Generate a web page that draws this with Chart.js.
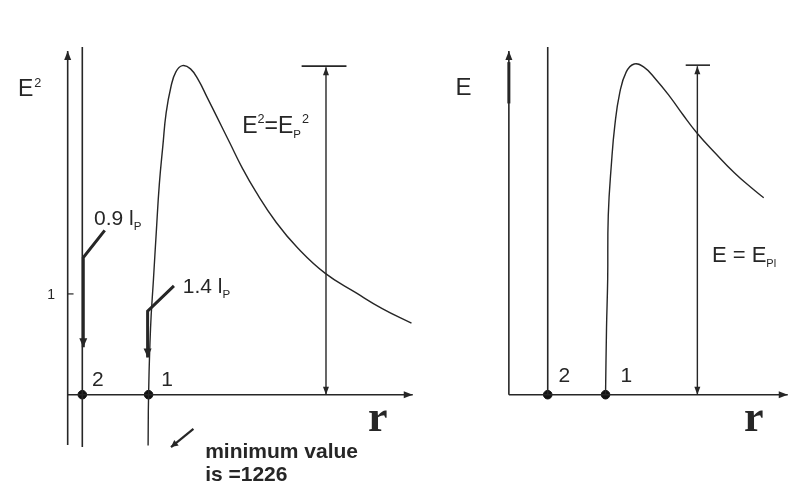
<!DOCTYPE html>
<html><head><meta charset="utf-8">
<script src="https://cdn.jsdelivr.net/npm/chart.js@4/dist/chart.umd.min.js"></script>
<style>
html,body{margin:0;padding:0;background:#fff;width:794px;height:491px;overflow:hidden}
#cl{position:absolute;left:0;top:0}
#cr{position:absolute;left:420px;top:0}
</style>
</head><body>
<canvas id="cl" width="420" height="491"></canvas>
<canvas id="cr" width="374" height="491"></canvas>
<script>
// ---------- data (arbitrary r units) ----------
const LEFT_R  = [4.125, 4.15, 4.25, 4.40, 4.55, 4.70, 4.885, 5.05, 5.30, 5.55, 5.885, 6.30, 6.715, 7.135, 7.635, 8.30, 8.965, 9.635, 10.70, 11.80, 13.215, 14.80, 16.135, 17.635];
const LEFT_E2 = [-0.505, 0.00, 0.66, 1.146, 1.631, 2.087, 2.476, 2.796, 3.058, 3.204, 3.265, 3.233, 3.119, 2.958, 2.764, 2.505, 2.246, 2.019, 1.709, 1.456, 1.204, 1.010, 0.854, 0.709];
const RIGHT_R = [4.975, 5.025, 5.085, 5.115, 5.285, 5.45, 5.70, 6.035, 6.45, 6.95, 7.535, 8.285, 8.95, 9.70, 10.615, 11.615, 12.45, 13.115];
const RIGHT_E = [0.00, 0.66, 1.146, 1.777, 2.311, 2.667, 2.990, 3.201, 3.282, 3.250, 3.136, 2.958, 2.780, 2.592, 2.398, 2.199, 2.058, 1.954];
const LEFT_Y_TICKS = [1];
const POINT_LABELS = ['2', '1'];
const LEFT_POINTS_R = [0.75, 4.15];
const RIGHT_POINTS_R = [2.0, 4.975];
const LEFT_PEAK = 3.26;   // E^2 = E_P^2 level
const RIGHT_PEAK = 3.27;  // E = E_Pl level
const LEFT_MARK_R = 13.25;
const RIGHT_MARK_R = 9.7;
const ANNOT_09 = '0.9';
const ANNOT_14 = '1.4';
const MIN_TEXT = ['minimum value', 'is =1226'];

const INK = '#262626';
const SANS = '"Liberation Sans", Arial, sans-serif';

// ---------- decoration plugin (draws via the chart's own scales) ----------
const deco = {
  id: 'deco',
  afterDatasetsDraw(chart, args, opts) {
    const {ctx, scales:{x, y}} = chart;
    const px = v => x.getPixelForValue(v), py = v => y.getPixelForValue(v);
    ctx.save();
    ctx.strokeStyle = INK; ctx.fillStyle = INK; ctx.lineCap = 'butt';
    const arrow = (x1, y1, x2, y2, len, half) => {
      const a = Math.atan2(y2 - y1, x2 - x1);
      ctx.beginPath();
      ctx.moveTo(x2, y2);
      ctx.lineTo(x2 - len*Math.cos(a) + half*Math.sin(a), y2 - len*Math.sin(a) - half*Math.cos(a));
      ctx.lineTo(x2 - len*Math.cos(a) - half*Math.sin(a), y2 - len*Math.sin(a) + half*Math.cos(a));
      ctx.closePath(); ctx.fill();
    };
    (opts.lines || []).forEach(l => {
      const pts = l.pts.map(p => [px(p[0]), py(p[1])]);
      ctx.lineWidth = l.w || 1.5;
      ctx.beginPath();
      pts.forEach((p, i) => i ? ctx.lineTo(p[0], p[1]) : ctx.moveTo(p[0], p[1]));
      ctx.stroke();
      const n = pts.length;
      if (l.end) arrow(pts[n-2][0], pts[n-2][1], pts[n-1][0], pts[n-1][1], l.al || 9, l.ah || 3.5);
      if (l.start) arrow(pts[1][0], pts[1][1], pts[0][0], pts[0][1], l.al || 9, l.ah || 3.5);
    });
    (opts.texts || []).forEach(t => {
      let cx = px(t.at[0]); const base = py(t.at[1]);
      ctx.textBaseline = 'alphabetic'; ctx.textAlign = 'left';
      t.segs.forEach(s => {
        const size = s.sup || s.sub ? t.size * (s.scale || 0.6) : t.size;
        ctx.font = (t.weight || 'normal') + ' ' + size + 'px ' + (t.family || SANS);
        const dy = s.sup ? -t.size * 0.42 : s.sub ? t.size * 0.22 : 0;
        ctx.fillText(s.t, cx + (s.dx || 0), base + dy);
        cx += ctx.measureText(s.t).width + (s.dx || 0);
      });
    });
    ctx.restore();
  }
};

function xy(rs, vs) { return rs.map((r, i) => ({x: r, y: vs[i]})); }

function makeChart(id, xr, yr, curve, pointsR, lines, texts) {
  return new Chart(document.getElementById(id), {
    type: 'scatter',
    data: { datasets: [
      { data: curve, showLine: true, borderColor: INK, borderWidth: 1.4, pointRadius: 0,
        tension: 0.45, cubicInterpolationMode: 'default', fill: false },
      { data: pointsR.map(r => ({x: r, y: 0})), pointRadius: 4.3, pointBackgroundColor: '#111',
        pointBorderColor: '#111', showLine: false }
    ]},
    options: {
      responsive: false, animation: false, devicePixelRatio: 1,
      layout: { padding: 0 },
      events: [],
      scales: {
        x: { type: 'linear', min: xr[0], max: xr[1], display: false },
        y: { type: 'linear', min: yr[0], max: yr[1], display: false }
      },
      plugins: { legend: {display: false}, tooltip: {enabled: false}, deco: { lines, texts } }
    },
    plugins: [deco]
  });
}

// ---------- left panel: E^2 ----------
const leftLines = [
  { pts: [[0, -0.50], [0, 3.41]], end: true, w: 1.6 },
  { pts: [[LEFT_POINTS_R[0], -0.52], [LEFT_POINTS_R[0], 3.45]], w: 1.6 },
  { pts: [[0, 0], [17.7, 0]], end: true, w: 1.4 },
  ...LEFT_Y_TICKS.map(v => ({ pts: [[0, v], [0.3, v]], w: 1.2 })),
  { pts: [[LEFT_MARK_R, 0], [LEFT_MARK_R, LEFT_PEAK - 0.01]], start: true, end: true, w: 1.4, al: 8, ah: 3 },
  { pts: [[12.0, LEFT_PEAK], [14.3, LEFT_PEAK]], w: 1.6 },
  { pts: [[1.9, 1.63], [0.8, 1.36], [0.8, 0.47]], end: true, w: 3, al: 9, ah: 4 },
  { pts: [[5.45, 1.08], [4.1, 0.83], [4.1, 0.37]], end: true, w: 3, al: 9, ah: 4 },
  { pts: [[6.45, -0.34], [5.3, -0.52]], end: true, w: 2.2, al: 7, ah: 3.5 }
];
const leftTexts = [
  { at: [-2.55, 2.96], size: 23, segs: [{t: 'E'}, {t: '2', sup: true, scale: 0.55, dx: 1}] },
  ...LEFT_Y_TICKS.map(v => ({ at: [-1.05, v - 0.05], size: 14, segs: [{t: String(v)}] })),
  { at: [8.95, 2.60], size: 23, segs: [{t: 'E'}, {t: '2', sup: true, scale: 0.55}, {t: '=E'}, {t: 'P', sub: true, scale: 0.5}, {t: '2', sup: true, scale: 0.55, dx: 1}] },
  { at: [1.35, 1.68], size: 21, segs: [{t: ANNOT_09 + ' l'}, {t: 'P', sub: true, scale: 0.55}] },
  { at: [5.9, 1.01], size: 21, segs: [{t: ANNOT_14 + ' l'}, {t: 'P', sub: true, scale: 0.55}] },
  { at: [1.25, 0.087], size: 21, segs: [{t: POINT_LABELS[0]}] },
  { at: [4.8, 0.087], size: 21, segs: [{t: POINT_LABELS[1]}] },
  { at: [15.4, -0.36], size: 44, weight: 'bold', family: '"Liberation Serif", "Times New Roman", serif', segs: [{t: 'r'}] },
  { at: [7.05, -0.63], size: 21, weight: 'bold', segs: [{t: MIN_TEXT[0]}] },
  { at: [7.05, -0.855], size: 21, weight: 'bold', segs: [{t: MIN_TEXT[1]}] }
];
makeChart('cl', [-3.2, 17.8], [-0.903, 3.864], xy(LEFT_R, LEFT_E2), LEFT_POINTS_R, leftLines, leftTexts);

// ---------- right panel: E ----------
const rightLines = [
  { pts: [[0, 0], [0, 3.41]], end: true, w: 1.6 },
  { pts: [[0, 2.89], [0, 3.30]], w: 3 },
  { pts: [[RIGHT_POINTS_R[0], 0], [RIGHT_POINTS_R[0], 3.45]], w: 1.6 },
  { pts: [[0, 0], [14.35, 0]], end: true, w: 1.5 },
  { pts: [[RIGHT_MARK_R, 0], [RIGHT_MARK_R, RIGHT_PEAK - 0.01]], start: true, end: true, w: 1.4, al: 8, ah: 3 },
  { pts: [[9.1, RIGHT_PEAK], [10.35, RIGHT_PEAK]], w: 1.6 }
];
const rightTexts = [
  { at: [-2.75, 2.97], size: 24, segs: [{t: 'E'}] },
  { at: [2.55, 0.126], size: 21, segs: [{t: POINT_LABELS[0]}] },
  { at: [5.75, 0.126], size: 21, segs: [{t: POINT_LABELS[1]}] },
  { at: [10.45, 1.32], size: 22, segs: [{t: 'E = E'}, {t: 'Pl', sub: true, scale: 0.5}] },
  { at: [12.1, -0.36], size: 44, weight: 'bold', family: '"Liberation Serif", "Times New Roman", serif', segs: [{t: 'r'}] }
];
makeChart('cr', [-4.3, 14.4], [-0.903, 3.864], xy(RIGHT_R, RIGHT_E), RIGHT_POINTS_R, rightLines, rightTexts);
</script>
</body></html>
